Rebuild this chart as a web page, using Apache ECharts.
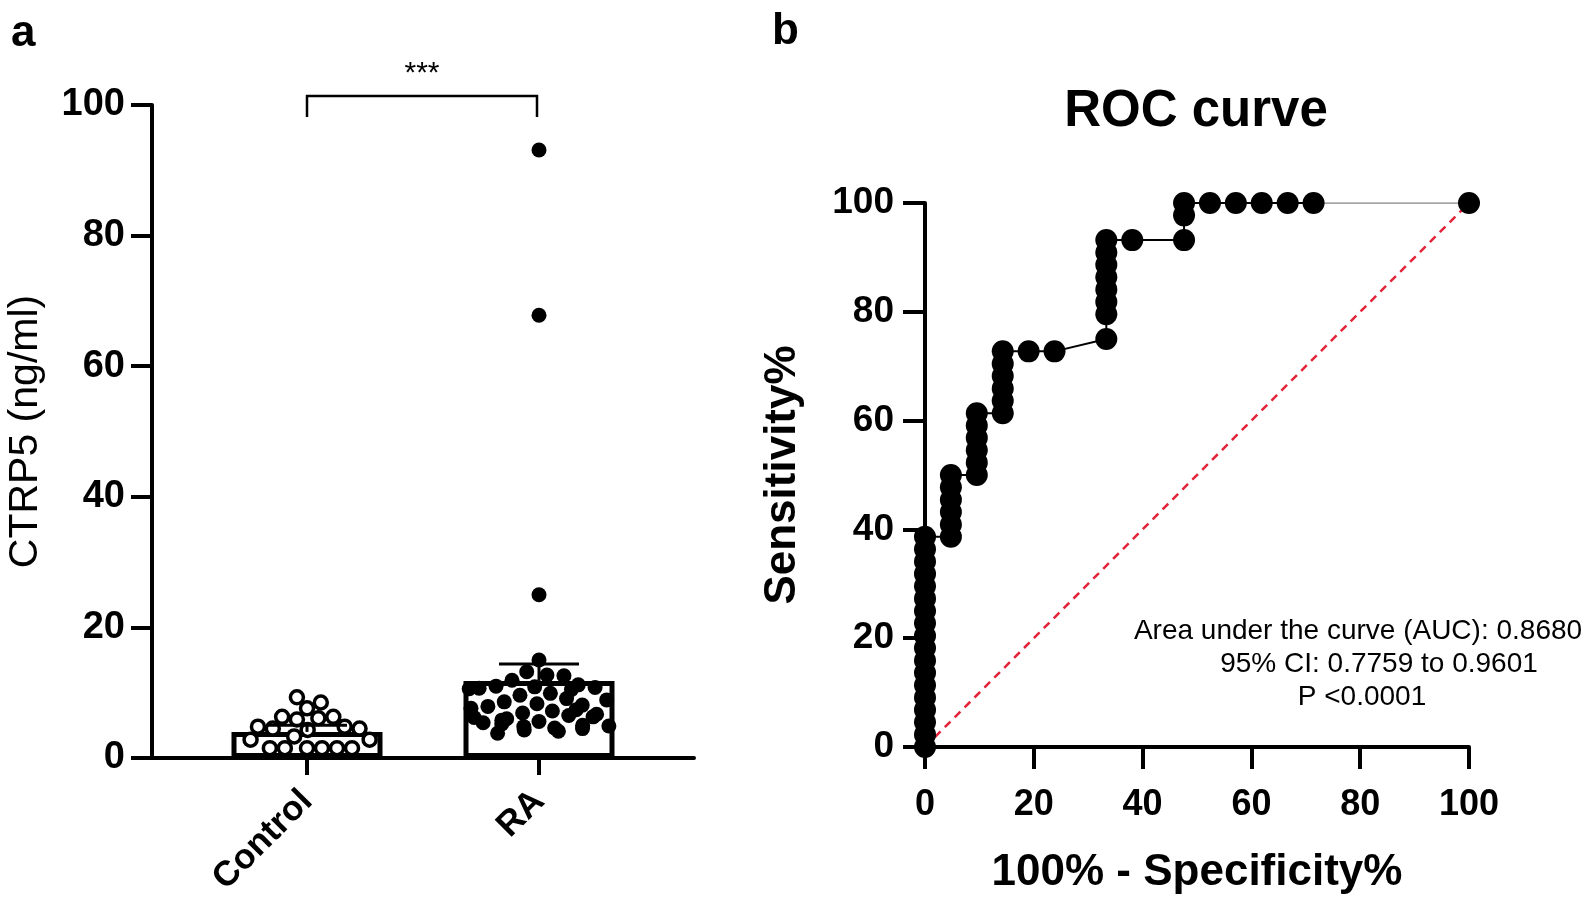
<!DOCTYPE html>
<html>
<head>
<meta charset="utf-8">
<script src="https://cdn.jsdelivr.net/npm/echarts@6/dist/echarts.min.js"></script>
<style>
  html, body { margin: 0; padding: 0; background: #fff; }
  #main { width: 1593px; height: 910px; }
</style>
</head>
<body>
<div id="main"></div>
<script>
// panel a: CTRP5 per group
var groups = ['Control', 'RA'];
var controlValues = [7.6, 9.3, 8.5, 5.9, 6.1, 6.3, 6.3, 4.5, 4.8, 4.8, 4.5, 4.3, 3.3,
  1.5, 1.5, 1.5, 1.5, 1.5, 1.5, 2.8, 2.8];
var raValues = [93.1, 67.8, 25.0, 15.0, 13.2, 12.7, 12.6, 11.9, 11.2, 11.0, 10.9, 10.8,
  10.7, 10.6, 10.5, 9.9, 9.6, 9.1, 8.9, 8.6, 8.3, 8.1, 7.9, 7.6, 7.4, 7.2, 6.9, 6.7,
  6.5, 6.3, 6.2, 6.0, 5.8, 5.6, 5.4, 5.2, 5.0, 4.9, 4.8, 4.6, 4.5, 4.3, 4.1, 3.8];
var barMeans = [4.0, 11.8];
var barErrors = [1.0, 2.6];

// panel b: ROC curve (100% - specificity, sensitivity)
var rocX = [0, 0, 0, 0, 0, 0, 0, 0, 0, 0, 0, 0, 0, 0, 0, 0, 0, 0,
  4.76, 4.76, 4.76, 4.76, 4.76, 4.76,
  9.52, 9.52, 9.52, 9.52, 9.52, 9.52,
  14.29, 14.29, 14.29, 14.29, 14.29, 14.29,
  19.05, 23.81,
  33.33, 33.33, 33.33, 33.33, 33.33, 33.33, 33.33, 33.33,
  38.10, 47.62, 47.62, 47.62,
  52.38, 57.14, 61.90, 66.67, 71.43, 100];
var rocY = [0, 2.27, 4.55, 6.82, 9.09, 11.36, 13.64, 15.91, 18.18, 20.45, 22.73, 25.00,
  27.27, 29.55, 31.82, 34.09, 36.36, 38.64,
  38.64, 40.91, 43.18, 45.45, 47.73, 50.00,
  50.00, 52.27, 54.55, 56.82, 59.09, 61.36,
  61.36, 63.64, 65.91, 68.18, 70.45, 72.73,
  72.73, 72.73,
  75.00, 79.55, 81.82, 84.09, 86.36, 88.64, 90.91, 93.18,
  93.18, 93.18, 97.73, 100,
  100, 100, 100, 100, 100, 100];
var aucLines = ['Area under the curve (AUC): 0.8680', '95% CI: 0.7759 to 0.9601', 'P <0.0001'];

var FONT = "'Liberation Sans', Arial, sans-serif";
var chart = echarts.init(document.getElementById('main'));

var rocPts = rocX.map(function (x, i) { return [x, rocY[i]]; });

var option = {
  animation: false,
  grid: [
    { left: 191, top: 105, width: 464, height: 653 },
    { left: 152, top: 105, width: 542, height: 653 },
    { left: 925, top: 203, width: 544, height: 544 }
  ],
  xAxis: [{
    gridIndex: 0,
    type: 'category',
    data: groups,
    jitter: 140,
    jitterOverlap: false,
    jitterMargin: 2,
    axisLine: { show: false },
    axisTick: { show: true, alignWithLabel: true, length: 17, lineStyle: { color: '#000', width: 4 } },
    axisLabel: { rotate: 45, margin: 38, color: '#000', fontFamily: FONT, fontWeight: 'bold', fontSize: 35 }
  }, {
    gridIndex: 1,
    type: 'value', min: 0, max: 1,
    axisLine: { show: true, lineStyle: { color: '#000', width: 4 } },
    axisTick: { show: false }, axisLabel: { show: false }, splitLine: { show: false }
  }, {
    gridIndex: 2,
    type: 'value', min: 0, max: 100, interval: 20,
    name: '100% - Specificity%',
    nameLocation: 'middle',
    nameGap: 104,
    nameTextStyle: { color: '#000', fontFamily: FONT, fontWeight: 'bold', fontSize: 44 },
    axisLine: { show: true, lineStyle: { color: '#000', width: 4 } },
    axisTick: { show: true, length: 22, lineStyle: { color: '#000', width: 4 } },
    axisLabel: { margin: 40, color: '#000', fontFamily: FONT, fontWeight: 'bold', fontSize: 36 },
    splitLine: { show: false }
  }],
  yAxis: [{
    gridIndex: 0,
    type: 'value', min: 0, max: 100, interval: 20,
    offset: 39,
    name: 'CTRP5 (ng/ml)',
    nameLocation: 'middle',
    nameGap: 106,
    nameTextStyle: { color: '#000', fontFamily: FONT, fontSize: 41 },
    axisLine: { show: true, lineStyle: { color: '#000', width: 4 } },
    axisTick: { show: true, length: 21, lineStyle: { color: '#000', width: 4 } },
    axisLabel: { margin: 27, color: '#000', fontFamily: FONT, fontWeight: 'bold', fontSize: 38 },
    splitLine: { show: false }
  }, {
    gridIndex: 1, type: 'value', show: false
  }, {
    gridIndex: 2,
    type: 'value', min: 0, max: 100, interval: 20,
    name: 'Sensitivity%',
    nameLocation: 'middle',
    nameGap: 120,
    nameTextStyle: { color: '#000', fontFamily: FONT, fontWeight: 'bold', fontSize: 44 },
    axisLine: { show: true, lineStyle: { color: '#000', width: 4 } },
    axisTick: { show: true, length: 22, lineStyle: { color: '#000', width: 4 } },
    axisLabel: { margin: 31, color: '#000', fontFamily: FONT, fontWeight: 'bold', fontSize: 37 },
    splitLine: { show: false }
  }],
  series: [{
    // mean bars
    type: 'bar',
    xAxisIndex: 0, yAxisIndex: 0,
    data: barMeans,
    barWidth: 151,
    z: 1,
    itemStyle: { color: '#fff', borderColor: '#000', borderWidth: 5 }
  }, {
    type: 'scatter',
    xAxisIndex: 0, yAxisIndex: 0,
    data: controlValues.map(function (v) { return [groups[0], v]; }),
    symbol: 'circle',
    symbolSize: 13,
    z: 3,
    itemStyle: { color: '#fff', borderColor: '#000', borderWidth: 3.5, opacity: 1 }
  }, {
    type: 'scatter',
    xAxisIndex: 0, yAxisIndex: 0,
    data: raValues.map(function (v) { return [groups[1], v]; }),
    symbol: 'circle',
    symbolSize: 15,
    z: 3,
    itemStyle: { color: '#000', opacity: 1 }
  }, {
    // error bars (upper only)
    type: 'custom',
    xAxisIndex: 0, yAxisIndex: 0,
    z: 4,
    data: barMeans.map(function (m, i) { return [i, m, m + barErrors[i]]; }),
    renderItem: function (params, api) {
      var base = api.coord([api.value(0), api.value(1)]);
      var top = api.coord([api.value(0), api.value(2)]);
      var half = 40;
      var st = { stroke: '#000', lineWidth: 3 };
      return {
        type: 'group',
        children: [
          { type: 'line', shape: { x1: base[0], y1: base[1], x2: top[0], y2: top[1] }, style: st },
          { type: 'line', shape: { x1: top[0] - half, y1: top[1], x2: top[0] + half, y2: top[1] }, style: st }
        ]
      };
    }
  }, {
    // chance line
    type: 'line',
    xAxisIndex: 2, yAxisIndex: 2,
    data: [[0, 0], [100, 100]],
    symbol: 'none',
    z: 1,
    lineStyle: { color: '#e3243b', width: 2.5, type: [8, 6] }
  }, {
    type: 'line',
    xAxisIndex: 2, yAxisIndex: 2,
    data: rocPts.slice(0, -1),
    symbol: 'none',
    z: 2,
    lineStyle: { color: '#000', width: 2 }
  }, {
    type: 'line',
    xAxisIndex: 2, yAxisIndex: 2,
    data: rocPts.slice(-2),
    symbol: 'none',
    z: 2,
    lineStyle: { color: '#8a8a8a', width: 1.5 }
  }, {
    type: 'scatter',
    xAxisIndex: 2, yAxisIndex: 2,
    data: rocPts,
    symbol: 'circle',
    symbolSize: 22,
    z: 3,
    clip: false,
    itemStyle: { color: '#000', opacity: 1 }
  }],
  graphic: [
    { type: 'text', left: 11, top: 12, style: { text: 'a', fill: '#000', font: 'bold 44px ' + FONT } },
    { type: 'text', left: 772, top: 10, style: { text: 'b', fill: '#000', font: 'bold 44px ' + FONT } },
    { type: 'polyline', shape: { points: [[307, 117], [307, 96], [537, 96], [537, 117]] },
      style: { stroke: '#000', lineWidth: 2.5, fill: null } },
    { type: 'text', x: 422, y: 74, style: { text: '***', fill: '#000', font: '30px ' + FONT, textAlign: 'center', textVerticalAlign: 'middle' } },
    { type: 'text', x: 1196, y: 112, style: { text: 'ROC curve', fill: '#000', font: 'bold 51px ' + FONT, textAlign: 'center', textVerticalAlign: 'middle' } },
    { type: 'text', x: 1358, y: 631, style: { text: aucLines[0], fill: '#000', font: '28px ' + FONT, textAlign: 'center', textVerticalAlign: 'middle' } },
    { type: 'text', x: 1379, y: 664, style: { text: aucLines[1], fill: '#000', font: '28px ' + FONT, textAlign: 'center', textVerticalAlign: 'middle' } },
    { type: 'text', x: 1362, y: 697, style: { text: aucLines[2], fill: '#000', font: '28px ' + FONT, textAlign: 'center', textVerticalAlign: 'middle' } }
  ]
};
chart.setOption(option);
</script>
</body>
</html>
